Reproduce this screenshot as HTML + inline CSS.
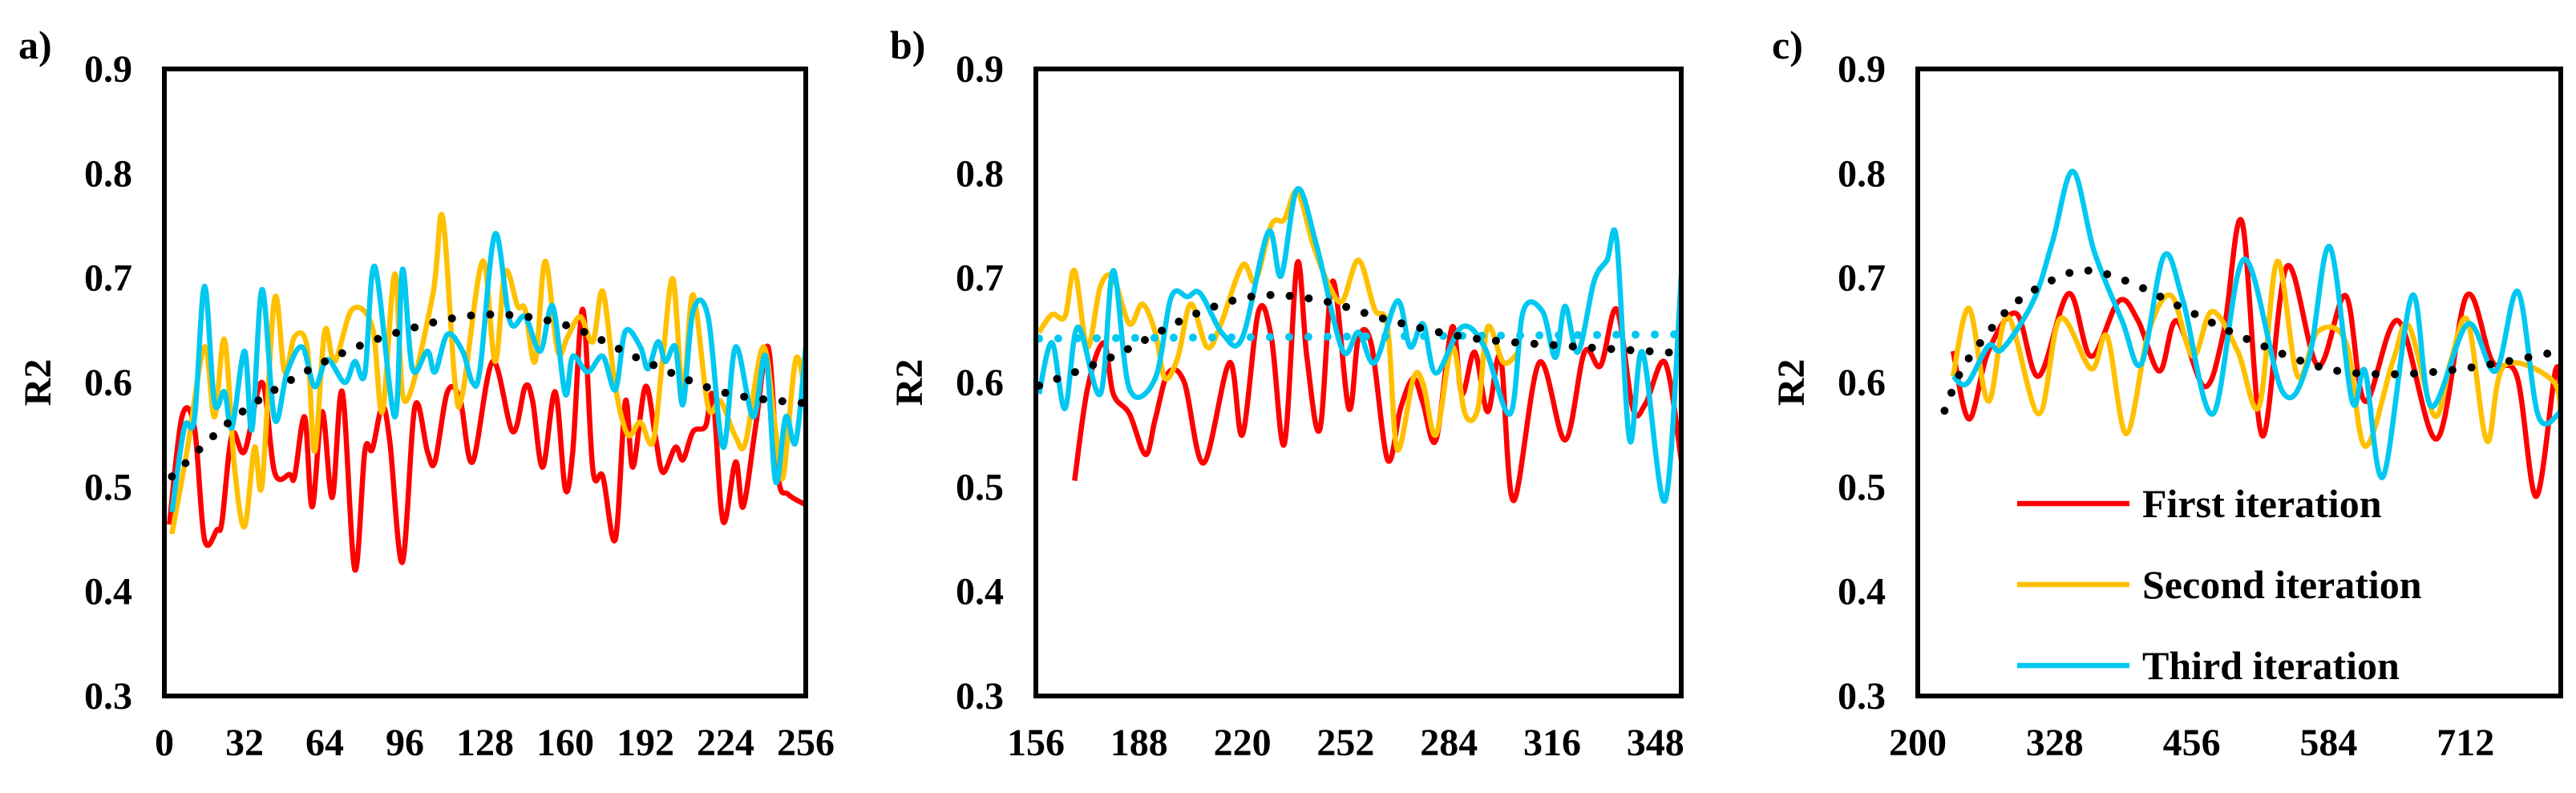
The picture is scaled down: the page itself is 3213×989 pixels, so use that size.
<!DOCTYPE html>
<html><head><meta charset="utf-8">
<style>
html,body{margin:0;padding:0;background:#fff;}
svg text{font-family:"Liberation Serif",serif;font-weight:bold;fill:#000;}
</style></head>
<body>
<svg id="fig" width="3213" height="984" viewBox="0 0 3213 984" xmlns="http://www.w3.org/2000/svg"></svg>
<script>
// ---------- Panel a data ----------
const aRedX=[2,7,12,16,21,23,27,32,39,44,50,52,56,59,63,67,71,76,80,83,87,90,95,100,105,108,113,118,123,131,139,144,147,151,156,160,163,167,171,175,180,184,187,192,196,199,204,207,211,216,219,223,228,231,236,241,245,249,256];
const aRedY=[0.464,0.567,0.557,0.45,0.459,0.467,0.55,0.534,0.6,0.514,0.512,0.51,0.567,0.481,0.572,0.49,0.591,0.421,0.534,0.536,0.577,0.543,0.428,0.577,0.534,0.524,0.591,0.584,0.524,0.62,0.553,0.596,0.582,0.519,0.591,0.498,0.534,0.67,0.517,0.51,0.45,0.582,0.519,0.596,0.548,0.514,0.538,0.526,0.553,0.558,0.586,0.467,0.524,0.481,0.558,0.634,0.51,0.493,0.483];
const aOrgX=[3,9,16,20,24,28,32,36,39,44,48,52,57,60,64,68,75,83,87,92,96,107,111,116,119,127,132,136,141,144,148,152,157,161,166,171,175,180,185,190,195,199,203,207,211,217,222,228,232,239,244,247,252,256];
const aOrgY=[0.455,0.534,0.634,0.567,0.641,0.519,0.462,0.538,0.502,0.68,0.61,0.644,0.634,0.534,0.649,0.62,0.67,0.653,0.572,0.704,0.582,0.682,0.759,0.6,0.589,0.716,0.62,0.706,0.673,0.67,0.62,0.716,0.63,0.644,0.663,0.639,0.687,0.596,0.55,0.562,0.543,0.625,0.699,0.591,0.684,0.577,0.582,0.548,0.543,0.634,0.553,0.51,0.622,0.586];
const aCyaX=[3,8,12,16,20,24,27,32,35,39,44,49,55,60,65,72,76,80,84,92,95,99,105,108,113,119,123,126,132,138,144,150,155,160,163,169,175,180,184,190,193,197,200,204,207,211,217,223,228,235,240,244,248,252,256];
const aCyaY=[0.476,0.557,0.565,0.692,0.581,0.591,0.557,0.63,0.555,0.689,0.565,0.61,0.634,0.596,0.622,0.6,0.62,0.608,0.711,0.567,0.708,0.613,0.63,0.61,0.646,0.63,0.6,0.613,0.742,0.658,0.663,0.63,0.673,0.589,0.625,0.61,0.625,0.593,0.649,0.634,0.613,0.639,0.62,0.634,0.579,0.668,0.663,0.538,0.634,0.567,0.625,0.505,0.567,0.543,0.634];
const aTrX=[3,30,64,96,128,160,192,224,256];
const aTrY=[0.51,0.57,0.62,0.65,0.665,0.655,0.62,0.59,0.58];
// ---------- Panel b data ----------
const bRedX=[168,172,177,180,185,190,193,197,202,208,216,220,225,229,233,237,240,244,248,253,256,260,265,269,273,276,280,285,288,292,296,300,304,312,320,326,331,336,341,345,351,356];
const bRedY=[0.506,0.594,0.638,0.589,0.57,0.531,0.565,0.609,0.6,0.523,0.619,0.55,0.668,0.643,0.541,0.714,0.624,0.555,0.697,0.575,0.643,0.636,0.526,0.575,0.604,0.58,0.545,0.653,0.589,0.629,0.572,0.624,0.487,0.619,0.545,0.629,0.616,0.67,0.575,0.58,0.619,0.526];
const bOrgX=[157,161,165,168,172,176,180,185,189,193,196,200,204,209,213,220,224,229,233,237,242,247,251,256,261,265,268,273,276,280,285,289,293,296,301,306];
const bOrgY=[0.648,0.665,0.663,0.707,0.634,0.692,0.7,0.656,0.675,0.648,0.604,0.624,0.675,0.634,0.653,0.712,0.697,0.751,0.756,0.783,0.731,0.692,0.678,0.717,0.67,0.653,0.536,0.604,0.599,0.55,0.634,0.57,0.575,0.653,0.619,0.631];
const bCyaX=[157,161,165,169,176,180,185,193,198,203,207,214,220,228,232,237,243,251,256,261,268,272,276,280,288,295,303,307,313,317,320,324,329,333,336,340,344,351,356];
const bCyaY=[0.589,0.638,0.575,0.653,0.589,0.707,0.594,0.604,0.682,0.682,0.685,0.646,0.643,0.744,0.702,0.785,0.731,0.631,0.648,0.619,0.678,0.634,0.656,0.609,0.653,0.634,0.57,0.668,0.668,0.624,0.673,0.629,0.697,0.717,0.736,0.545,0.629,0.487,0.702];
const bTrX=[157,180,205,225,245,265,290,320,356];
const bTrY=[0.597,0.625,0.665,0.683,0.678,0.66,0.643,0.635,0.628];
const bCyaTrX=[157,356];
const bCyaTrY=[0.642,0.646];
// ---------- Panel c data ----------
const cRedX=[233,248,266,292,313,341,362,388,406,426,442,468,486,503,522,545,574,600,618,649,685,713,737,760,778,796,801];
const cRedY=[0.63,0.565,0.63,0.666,0.606,0.685,0.625,0.678,0.659,0.611,0.659,0.596,0.649,0.754,0.549,0.711,0.616,0.683,0.582,0.659,0.546,0.683,0.62,0.606,0.491,0.611,0.587];
const cOrgX=[233,248,266,284,313,333,362,377,395,416,437,457,475,499,519,536,555,574,600,618,644,659,683,698,714,732,748,794,801];
const cOrgY=[0.606,0.671,0.582,0.663,0.57,0.661,0.613,0.644,0.551,0.649,0.683,0.625,0.668,0.63,0.577,0.716,0.606,0.649,0.639,0.539,0.62,0.654,0.568,0.62,0.659,0.544,0.616,0.601,0.558];
const cCyaX=[233,246,266,279,308,326,345,365,391,409,430,448,476,505,541,565,585,606,618,635,662,680,714,740,761,780,801];
const cCyaY=[0.606,0.599,0.635,0.632,0.678,0.735,0.802,0.725,0.659,0.618,0.721,0.678,0.57,0.718,0.591,0.62,0.73,0.582,0.611,0.51,0.683,0.577,0.656,0.611,0.687,0.568,0.572];
const cTrX=[225,240,260,290,330,360,400,450,500,560,600,650,700,750,800];
const cTrY=[0.573,0.61,0.64,0.675,0.70,0.707,0.695,0.67,0.645,0.62,0.61,0.608,0.612,0.62,0.63];
// ---------- Axes ----------
const yTicks=[0.3,0.4,0.5,0.6,0.7,0.8,0.9];
const aXTicks=[0,32,64,96,128,160,192,224,256];
const bXTicks=[156,188,220,252,284,316,348];
const cXTicks=[200,328,456,584,712];
const legendLabels=["First iteration","Second iteration","Third iteration"];

const NS="http://www.w3.org/2000/svg";
const svg=document.getElementById('fig');
const RED="#ff0000",ORG="#ffc000",CYA="#00c8f0";
const TOP=86,BOT=868;
function el(tag,attrs,parent){const e=document.createElementNS(NS,tag);for(const k in attrs)e.setAttribute(k,attrs[k]);(parent||svg).appendChild(e);return e;}
function smoothPath(xs,ys,sx,sy){
  const p=xs.map((x,i)=>[sx(x),sy(ys[i])]);
  let d="M"+p[0][0].toFixed(1)+","+p[0][1].toFixed(1);
  for(let i=0;i<p.length-1;i++){
    const p0=p[Math.max(0,i-1)],p1=p[i],p2=p[i+1],p3=p[Math.min(p.length-1,i+2)];
    const c1=[p1[0]+(p2[0]-p0[0])/6,p1[1]+(p2[1]-p0[1])/6];
    const c2=[p2[0]-(p3[0]-p1[0])/6,p2[1]-(p3[1]-p1[1])/6];
    d+=" C"+c1[0].toFixed(1)+","+c1[1].toFixed(1)+" "+c2[0].toFixed(1)+","+c2[1].toFixed(1)+" "+p2[0].toFixed(1)+","+p2[1].toFixed(1);
  }
  return d;
}
function panel(id,L,R,xmin,xmax,xticks,series,trends,letter){
  const g=el('g',{});
  
  
  const sx=v=>L+(v-xmin)/(xmax-xmin)*(R-L);
  const sy=v=>BOT-(v-0.3)/0.6*(BOT-TOP);
  const cp=el('clipPath',{id:'clip-'+id},g);
  el('rect',{x:L,y:TOP,width:R-L,height:BOT-TOP},cp);
  const plot=el('g',{'clip-path':'url(#clip-'+id+')'},g);
  series.forEach(s=>{
    const p=el('path',{d:smoothPath(s.x,s.y,sx,sy),fill:'none',stroke:s.c,'stroke-width':6.5,'stroke-linejoin':'round'},plot);
    
    
  });
  trends.forEach(t=>{
    const p=el('path',{d:smoothPath(t.x,t.y,sx,sy),fill:'none',stroke:t.c,'stroke-width':10,'stroke-linecap':'round','stroke-dasharray':'0 24'},plot);
    
    
  });
  const frame=el('rect',{x:L,y:TOP,width:R-L,height:BOT-TOP,fill:'none',stroke:'#000','stroke-width':6},g);
  
  
  yTicks.forEach(v=>{
    const t=el('text',{x:L-40,y:sy(v)+16,'text-anchor':'end','font-size':48},g);
    t.textContent=v.toFixed(1);
    
    
  });
  xticks.forEach(v=>{
    const t=el('text',{x:sx(v),y:942,'text-anchor':'middle','font-size':48},g);
    t.textContent=v;
    
    
  });
  const yl=el('text',{x:0,y:0,'text-anchor':'middle','font-size':48,transform:'translate('+(L-142)+','+((TOP+BOT)/2)+') rotate(-90)'},g);
  yl.textContent='R2';
  
  
  const pl=el('text',{x:L-182,y:73,'font-size':50},g);
  pl.textContent=letter;
  
  
  return {g,sx,sy};
}
panel('a',205,1005,0,256,aXTicks,
  [{x:aRedX,y:aRedY,c:RED,n:'first'},{x:aOrgX,y:aOrgY,c:ORG,n:'second'},{x:aCyaX,y:aCyaY,c:CYA,n:'third'}],
  [{x:aTrX,y:aTrY,c:'#000',n:'black'}],'a)');
panel('b',1292,2097,156,356,bXTicks,
  [{x:bRedX,y:bRedY,c:RED,n:'first'},{x:bOrgX,y:bOrgY,c:ORG,n:'second'},{x:bCyaX,y:bCyaY,c:CYA,n:'third'}],
  [{x:bCyaTrX,y:bCyaTrY,c:CYA,n:'cyan'},{x:bTrX,y:bTrY,c:'#000',n:'black'}],'b)');
panel('c',2392,3194,200,801,cXTicks,
  [{x:cRedX,y:cRedY,c:RED,n:'first'},{x:cOrgX,y:cOrgY,c:ORG,n:'second'},{x:cCyaX,y:cCyaY,c:CYA,n:'third'}],
  [{x:cTrX,y:cTrY,c:'#000',n:'black'}],'c)');
// legend
const lg=el('g',{});


const lc=[RED,ORG,CYA];
legendLabels.forEach((lab,i)=>{
  const y=628+i*101;
  const ln=el('line',{x1:2516,x2:2656,y1:y,y2:y,stroke:lc[i],'stroke-width':6.5},lg);
  
  
  const t=el('text',{x:2672,y:y+17,'font-size':50},lg);
  t.textContent=lab;
  
  
});
</script>
</body></html>
